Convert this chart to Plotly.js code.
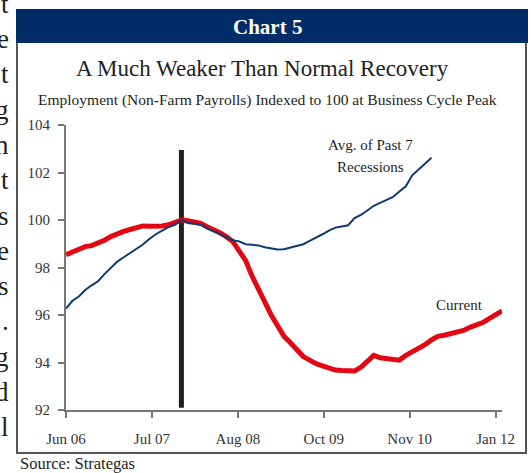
<!DOCTYPE html>
<html>
<head>
<meta charset="utf-8">
<script src="https://cdn.plot.ly/plotly-3.0.1.min.js"></script>
<style>
  html, body { margin: 0; padding: 0; background: #fff; }
  #chart { width: 531px; height: 473px; }
</style>
</head>
<body>
<div id="chart"></div>
<script>
// Month index: 0 = Jun 2006, 18 = Dec 2007 (business cycle peak)
var currentMonths = [0,1,2,3,4,5,6,7,8,9,10,11,12,13,14,15,16,17,18,19,20,21,22,23,24,25,26,27,28,29,30,31,32,33,34,35,36,37,38,39,40,41,42,43,44,45,46,47,48,49,50,51,52,53,54,55,56,57,58,59,60,61,62,63,64,65,66,67,68];
var currentValues = [98.54,98.66,98.77,98.88,98.92,99.02,99.15,99.30,99.42,99.52,99.60,99.68,99.75,99.74,99.72,99.75,99.80,99.90,100.00,99.97,99.93,99.86,99.72,99.60,99.47,99.30,99.10,98.70,98.30,97.65,97.05,96.55,96.00,95.50,95.10,94.83,94.52,94.25,94.10,93.95,93.86,93.76,93.68,93.66,93.65,93.64,93.80,94.05,94.30,94.20,94.16,94.12,94.10,94.30,94.44,94.56,94.75,94.95,95.10,95.15,95.20,95.25,95.35,95.48,95.56,95.68,95.85,96.00,96.17];

var avgMonths = [0,1,2,3,4,5,6,7,8,9,10,11,12,13,14,15,16,17,18,19,20,21,22,23,24,25,26,27,28,29,30,31,32,33,34,35,36,37,38,39,40,41,42,43,44,45,46,47,48,49,50,51,52,53,54,55,56,57];
var avgValues = [96.27,96.60,96.78,97.05,97.25,97.42,97.72,97.98,98.25,98.43,98.60,98.80,98.97,99.20,99.40,99.55,99.70,99.80,100.00,99.87,99.85,99.80,99.65,99.52,99.40,99.28,99.15,99.10,98.98,98.96,98.93,98.85,98.80,98.76,98.77,98.85,98.93,98.98,99.12,99.25,99.40,99.55,99.68,99.73,99.78,100.08,100.22,100.40,100.60,100.72,100.85,100.97,101.20,101.42,101.88,102.12,102.38,102.62];

var peakMonth = 18;
var tickPositions = [0, 13.4, 26.8, 40.2, 53.6, 67];
var tickLabels = ["Jun 06", "Jul 07", "Aug 08", "Oct 09", "Nov 10", "Jan 12"];
var yTicks = [92, 94, 96, 98, 100, 102, 104];

var sideLetters = ["t","e","t","g","n","t","s","e","s",".","g","d","l"];

// plot area in pixels: x 66..502, y 125..410
function px(x) { return (x - 66) / 436; }
function py(y) { return (410 - y) / 285; }

var serif = "Liberation Serif, Times New Roman, serif";

var traces = [
  {
    x: currentMonths, y: currentValues, type: "scatter", mode: "lines",
    line: { color: "#e30613", width: 5 }, hoverinfo: "skip", name: "Current"
  },
  {
    x: avgMonths, y: avgValues, type: "scatter", mode: "lines",
    line: { color: "#0c3a74", width: 2 }, hoverinfo: "skip", name: "Avg. of Past 7 Recessions"
  }
];

var annotations = [
  { xref: "paper", yref: "paper", x: px(267), y: py(27), text: "<b>Chart 5</b>", showarrow: false,
    font: { family: serif, size: 21, color: "#ffffff" }, xanchor: "center", yanchor: "middle" },
  { xref: "paper", yref: "paper", x: px(262), y: py(68), text: "A Much Weaker Than Normal Recovery", showarrow: false,
    font: { family: serif, size: 23, color: "#231f20" }, xanchor: "center", yanchor: "middle" },
  { xref: "paper", yref: "paper", x: px(267.5), y: py(100), text: "Employment (Non-Farm Payrolls) Indexed to 100 at Business Cycle Peak", showarrow: false,
    font: { family: serif, size: 15.5, color: "#231f20" }, xanchor: "center", yanchor: "middle" },
  { xref: "paper", yref: "paper", x: px(370), y: py(145), text: "Avg. of Past 7", showarrow: false,
    font: { family: serif, size: 15, color: "#231f20" }, xanchor: "center", yanchor: "middle" },
  { xref: "paper", yref: "paper", x: px(370), y: py(167), text: "Recessions", showarrow: false,
    font: { family: serif, size: 15, color: "#231f20" }, xanchor: "center", yanchor: "middle" },
  { xref: "paper", yref: "paper", x: px(459), y: py(305), text: "Current", showarrow: false,
    font: { family: serif, size: 15, color: "#231f20" }, xanchor: "center", yanchor: "middle" },
  { xref: "paper", yref: "paper", x: px(18), y: py(463), text: "Source: Strategas", showarrow: false,
    font: { family: serif, size: 16.5, color: "#231f20" }, xanchor: "left", yanchor: "middle" }
];

sideLetters.forEach(function (ch, i) {
  var baseline = 12 + 35.25 * i;
  annotations.push({
    xref: "paper", yref: "paper", x: px(11), y: py(baseline - 8), text: ch, showarrow: false,
    font: { family: serif, size: 27, color: "#231f20" }, xanchor: "right", yanchor: "middle"
  });
});

var shapes = [
  { type: "rect", xref: "paper", yref: "paper", x0: px(16), x1: px(528), y0: py(43), y1: py(9),
    fillcolor: "#002d67", line: { width: 0 } },
  { type: "line", xref: "paper", yref: "paper", x0: px(17), x1: px(17), y0: py(43), y1: py(453),
    line: { color: "#555555", width: 2 } },
  { type: "line", xref: "paper", yref: "paper", x0: px(16), x1: px(527), y0: py(453), y1: py(453),
    line: { color: "#555555", width: 2 } },
  { type: "line", xref: "paper", yref: "paper", x0: px(526), x1: px(526), y0: py(43), y1: py(453),
    line: { color: "#555555", width: 2 } },
  { type: "line", xref: "x", yref: "y", x0: peakMonth, x1: peakMonth, y0: 92.1, y1: 102.95,
    line: { color: "#231f20", width: 5 }, layer: "below" }
];

var layout = {
  width: 531, height: 473,
  margin: { l: 66, r: 29, t: 125, b: 63, pad: 0 },
  paper_bgcolor: "#ffffff", plot_bgcolor: "#ffffff",
  showlegend: false,
  font: { family: serif, color: "#333333" },
  xaxis: {
    range: [0, 68], tickmode: "array", tickvals: tickPositions, ticktext: tickLabels,
    showgrid: false, zeroline: false, showline: true, linecolor: "#777777", linewidth: 2,
    ticks: "outside", ticklen: 6, tickwidth: 2, tickcolor: "#777777",
    tickfont: { family: serif, size: 15, color: "#333333" }, ticklabelstandoff: 8,
    fixedrange: true
  },
  yaxis: {
    range: [92, 104], tickmode: "array", tickvals: yTicks,
    showgrid: false, zeroline: false, showline: true, linecolor: "#777777", linewidth: 2,
    ticks: "outside", ticklen: 6, tickwidth: 2, tickcolor: "#777777",
    tickfont: { family: serif, size: 15, color: "#333333" }, ticklabelstandoff: 5,
    fixedrange: true
  },
  shapes: shapes,
  annotations: annotations
};

Plotly.newPlot("chart", traces, layout, { displayModeBar: false, staticPlot: true });
</script>
</body>
</html>
